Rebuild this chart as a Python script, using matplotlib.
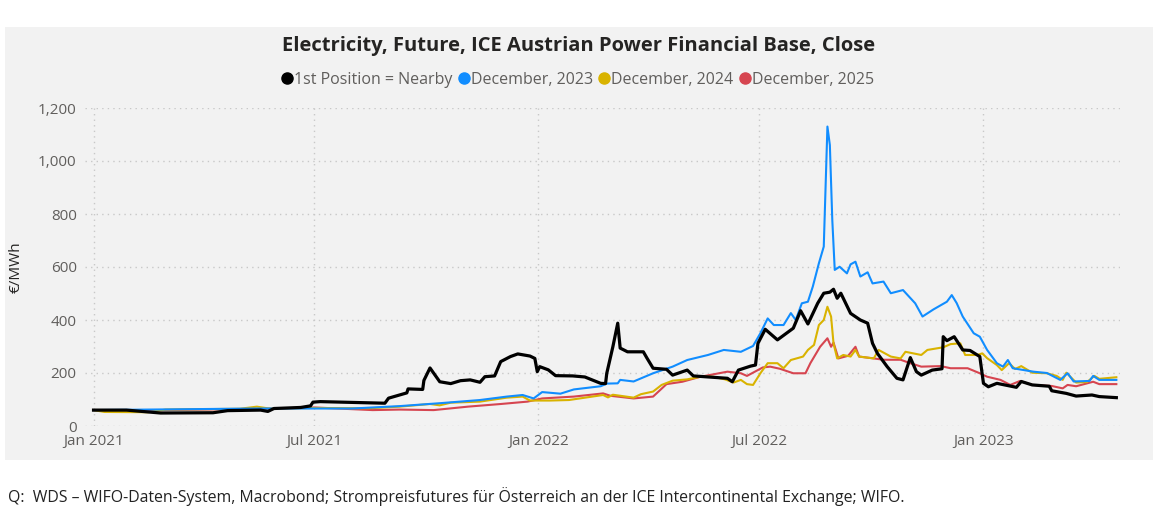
import numpy as np
import pandas as pd
import matplotlib
matplotlib.use("Agg")
import matplotlib.pyplot as plt
import matplotlib.dates as mdates
from matplotlib.patches import Rectangle

# 1st Position = Nearby
nearby_dates = ["2021-01-01", "2021-01-28", "2021-02-25", "2021-04-09", "2021-04-21", "2021-05-18",
                "2021-05-24", "2021-05-29", "2021-06-20", "2021-06-28", "2021-06-30", "2021-07-06",
                "2021-08-28", "2021-08-31", "2021-09-15", "2021-09-16", "2021-09-28", "2021-09-29",
                "2021-10-04", "2021-10-12", "2021-10-21", "2021-10-29", "2021-11-06", "2021-11-14",
                "2021-11-18", "2021-11-26", "2021-12-01", "2021-12-09", "2021-12-15", "2021-12-25",
                "2021-12-29", "2021-12-31", "2022-01-02", "2022-01-09", "2022-01-15", "2022-01-29",
                "2022-02-08", "2022-02-21", "2022-02-25", "2022-02-26", "2022-03-03", "2022-03-07",
                "2022-03-09", "2022-03-15", "2022-03-28", "2022-03-31", "2022-04-05", "2022-04-16",
                "2022-04-21", "2022-05-03", "2022-05-08", "2022-06-05", "2022-06-09", "2022-06-14",
                "2022-06-24", "2022-06-28", "2022-06-30", "2022-07-06", "2022-07-16", "2022-07-29",
                "2022-08-04", "2022-08-10", "2022-08-18", "2022-08-23", "2022-08-28", "2022-08-31",
                "2022-09-03", "2022-09-06", "2022-09-14", "2022-09-22", "2022-09-28", "2022-10-02",
                "2022-10-06", "2022-10-14", "2022-10-22", "2022-10-27", "2022-11-02", "2022-11-07",
                "2022-11-11", "2022-11-20", "2022-11-28", "2022-11-29", "2022-12-02", "2022-12-08",
                "2022-12-15", "2022-12-21", "2022-12-29", "2023-01-01", "2023-01-05", "2023-01-12",
                "2023-01-28", "2023-02-01", "2023-02-10", "2023-02-24", "2023-02-26", "2023-03-10",
                "2023-03-18", "2023-03-31", "2023-04-06", "2023-04-20"]
nearby_vals = [60, 60, 49, 50, 58, 60,
               55, 66, 70, 76, 90, 92,
               86, 105, 125, 140, 138, 172,
               219, 167, 160, 171, 174, 165,
               186, 189, 243, 262, 272, 264,
               255, 205, 224, 212, 190, 189,
               185, 161, 160, 199, 299, 388,
               294, 280, 280, 256, 218, 214,
               192, 211, 189, 180, 167, 211,
               226, 230, 312, 365, 325, 369,
               435, 385, 463, 501, 505, 516,
               482, 501, 425, 400, 388, 312,
               274, 224, 180, 174, 258, 205,
               192, 211, 216, 337, 322, 337,
               287, 285, 262, 161, 148, 161,
               146, 168, 155, 150, 133, 123,
               113, 117, 111, 107]

# December, 2023
dec23_dates = ["2021-01-01", "2021-02-15", "2021-04-01", "2021-05-15", "2021-07-01", "2021-08-01",
               "2021-09-09", "2021-10-12", "2021-11-14", "2021-12-06", "2021-12-19", "2021-12-28",
               "2022-01-04", "2022-01-19", "2022-01-30", "2022-02-21", "2022-02-26", "2022-03-07",
               "2022-03-09", "2022-03-20", "2022-04-05", "2022-04-21", "2022-05-03", "2022-05-20",
               "2022-06-02", "2022-06-16", "2022-06-26", "2022-07-02", "2022-07-08", "2022-07-13",
               "2022-07-21", "2022-07-27", "2022-07-31", "2022-08-05", "2022-08-10", "2022-08-14",
               "2022-08-19", "2022-08-23", "2022-08-26", "2022-08-28", "2022-08-30", "2022-09-01",
               "2022-09-05", "2022-09-11", "2022-09-14", "2022-09-18", "2022-09-22", "2022-09-28",
               "2022-10-02", "2022-10-11", "2022-10-17", "2022-10-27", "2022-11-06", "2022-11-12",
               "2022-11-21", "2022-12-02", "2022-12-06", "2022-12-10", "2022-12-15", "2022-12-24",
               "2022-12-29", "2023-01-04", "2023-01-12", "2023-01-17", "2023-01-21", "2023-01-25",
               "2023-02-11", "2023-02-22", "2023-03-05", "2023-03-11", "2023-03-16", "2023-03-29",
               "2023-04-01", "2023-04-06", "2023-04-20"]
dec23_vals = [60, 62, 64, 66, 66, 66,
              75, 86, 98, 111, 117, 104,
              128, 122, 138, 150, 160, 161,
              174, 168, 199, 224, 249, 268,
              287, 280, 302, 350, 406, 381,
              381, 426, 400, 463, 469, 526,
              614, 677, 1130, 1060, 777, 589,
              601, 576, 610, 620, 564, 580,
              538, 545, 501, 513, 463, 413,
              440, 469, 494, 464, 413, 350,
              337, 287, 237, 224, 249, 218,
              205, 200, 174, 199, 168, 170,
              189, 174, 174]

# December, 2024
dec24_dates = ["2021-01-01", "2021-01-10", "2021-02-15", "2021-03-01", "2021-05-01", "2021-05-15",
               "2021-05-25", "2021-07-01", "2021-08-15", "2021-09-09", "2021-10-04", "2021-10-12",
               "2021-10-21", "2021-11-14", "2021-12-06", "2021-12-19", "2021-12-25", "2022-01-10",
               "2022-01-26", "2022-02-23", "2022-02-27", "2022-03-03", "2022-03-20", "2022-03-26",
               "2022-04-05", "2022-04-12", "2022-04-21", "2022-05-03", "2022-05-14", "2022-05-24",
               "2022-06-03", "2022-06-10", "2022-06-16", "2022-06-21", "2022-06-26", "2022-07-02",
               "2022-07-08", "2022-07-16", "2022-07-21", "2022-07-27", "2022-08-06", "2022-08-10",
               "2022-08-15", "2022-08-19", "2022-08-23", "2022-08-26", "2022-08-29", "2022-08-31",
               "2022-09-03", "2022-09-08", "2022-09-14", "2022-09-18", "2022-09-21", "2022-10-03",
               "2022-10-07", "2022-10-17", "2022-10-25", "2022-10-29", "2022-11-11", "2022-11-16",
               "2022-11-29", "2022-12-05", "2022-12-13", "2022-12-17", "2022-12-27", "2022-12-31",
               "2023-01-04", "2023-01-12", "2023-01-16", "2023-01-22", "2023-01-27", "2023-02-01",
               "2023-02-10", "2023-02-22", "2023-03-02", "2023-03-07", "2023-03-10", "2023-03-18",
               "2023-03-27", "2023-04-02", "2023-04-06", "2023-04-20"]
dec24_vals = [60, 53, 52, 62, 65, 73,
              66, 68, 67, 73, 83, 78,
              88, 92, 107, 111, 96, 96,
              98, 117, 108, 118, 107, 120,
              130, 155, 171, 176, 186, 186,
              176, 164, 174, 158, 155, 199,
              237, 237, 218, 249, 262, 287,
              306, 381, 400, 450, 413, 312,
              255, 268, 262, 287, 262, 255,
              287, 262, 255, 280, 268, 287,
              297, 309, 312, 268, 268, 274,
              256, 230, 211, 237, 215, 226,
              201, 199, 189, 174, 201, 164,
              166, 189, 178, 184]

# December, 2025
dec25_dates = ["2021-01-01", "2021-02-01", "2021-04-01", "2021-06-01", "2021-07-01", "2021-08-18",
               "2021-09-09", "2021-10-07", "2021-11-04", "2021-12-01", "2021-12-23", "2022-01-04",
               "2022-01-30", "2022-02-23", "2022-03-01", "2022-03-20", "2022-04-05", "2022-04-16",
               "2022-04-29", "2022-05-14", "2022-06-05", "2022-06-16", "2022-06-21", "2022-07-04",
               "2022-07-10", "2022-07-18", "2022-07-29", "2022-08-08", "2022-08-12", "2022-08-20",
               "2022-08-26", "2022-08-29", "2022-08-31", "2022-09-04", "2022-09-12", "2022-09-18",
               "2022-09-21", "2022-10-03", "2022-10-11", "2022-10-25", "2022-11-02", "2022-11-11",
               "2022-11-27", "2022-12-05", "2022-12-19", "2022-12-29", "2023-01-04", "2023-01-15",
               "2023-01-23", "2023-01-31", "2023-02-10", "2023-02-26", "2023-03-07", "2023-03-11",
               "2023-03-18", "2023-04-01", "2023-04-06", "2023-04-20"]
dec25_vals = [60, 58, 62, 66, 70, 60,
              62, 60, 73, 83, 92, 104,
              111, 123, 114, 104, 111, 158,
              167, 186, 205, 199, 189, 221,
              224, 216, 199, 199, 237, 299,
              331, 299, 315, 255, 265, 299,
              262, 255, 250, 250, 237, 224,
              226, 218, 218, 199, 186, 174,
              155, 170, 155, 151, 142, 155,
              150, 167, 158, 158]

series_names = ["1st Position = Nearby", "December, 2023", "December, 2024", "December, 2025"]
colors = ["#000000", "#118DFF", "#D9B300", "#D64550"]
widths = [2.3, 1.5, 1.5, 1.5]

xtick_dates = ["2021-01-01", "2021-07-01", "2022-01-01", "2022-07-01", "2023-01-01"]
yticks = [0, 200, 400, 600, 800, 1000, 1200]

plt.rcParams['font.family'] = ['Open Sans', 'DejaVu Sans']

W, H = 1163, 512
fig = plt.figure(figsize=(W / 100, H / 100), dpi=100)
fig.patch.set_facecolor("white")
panel = "#F2F2F2"
fig.add_artist(Rectangle((5 / W, 1 - 460 / H), 1148 / W, 433 / H,
                         transform=fig.transFigure, facecolor=panel, edgecolor="none", zorder=0))

ax = fig.add_axes([85 / W, 1 - 426 / H, (1120 - 85) / W, (426 - 108) / H])
ax.set_facecolor("none")

all_series = [(nearby_dates, nearby_vals), (dec23_dates, dec23_vals),
              (dec24_dates, dec24_vals), (dec25_dates, dec25_vals)]
# nearby line drawn last so it sits on top
for i in [3, 2, 1, 0]:
    d, v = all_series[i]
    ax.plot(pd.to_datetime(d), v, color=colors[i], lw=widths[i], solid_joinstyle="round", zorder=3 + (3 - i))

ax.set_ylim(0, 1200)
ax.set_xlim(pd.Timestamp("2020-12-25"), pd.Timestamp("2023-04-23"))
ax.set_yticks(yticks)
ax.set_yticklabels([f"{t:,}" for t in yticks])
ax.set_xticks(pd.to_datetime(xtick_dates))
ax.xaxis.set_major_formatter(mdates.DateFormatter("%b %Y"))

grid_kw = dict(color="#C8C8C8", linestyle=(0, (1, 3)), linewidth=1.0)
ax.grid(True, axis="both", **grid_kw)
ax.set_axisbelow(True)
for s in ax.spines.values():
    s.set_visible(False)
ax.tick_params(length=0, labelsize=11, labelcolor="#605E5C", pad=6)
ax.tick_params(axis="x", pad=6)

ax.set_ylabel("€/MWh", fontsize=11, color="#252423")
ax.yaxis.set_label_coords((24 - 85) / (1120 - 85), 0.5)

fig.text(579 / W, 1 - 46 / H, "Electricity, Future, ICE Austrian Power Financial Base, Close",
         ha="center", va="center", fontsize=14.5, fontweight="bold", color="#252423")

# legend row
handles = [plt.Line2D([], [], marker="o", linestyle="none", markersize=8, color=c) for c in colors]
leg = fig.legend(handles, series_names, loc="center", bbox_to_anchor=(578 / W, 1 - 80 / H),
                 ncol=4, frameon=False, fontsize=11.5, handlelength=0.6, handletextpad=0.15,
                 columnspacing=0.4, labelcolor="#605E5C")

fig.text(8 / W, 1 - 497 / H,
         "Q:  WDS – WIFO-Daten-System, Macrobond; Strompreisfutures für Österreich an der ICE Intercontinental Exchange; WIFO.",
         ha="left", va="center", fontsize=11.4, color="#222222")

fig.savefig("out.png", dpi=100, facecolor=fig.get_facecolor())
